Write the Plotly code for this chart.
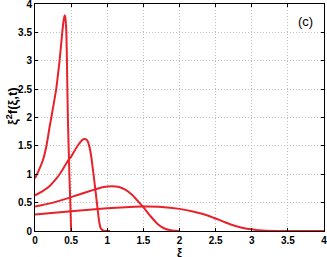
import plotly.graph_objects as go

# Curve data
x1 = [0, 0.05, 0.11, 0.15, 0.18, 0.2, 0.226, 0.26, 0.295, 0.34, 0.378, 0.395, 0.41, 0.42, 0.428, 0.434, 0.442, 0.448, 0.455, 0.465, 0.478, 0.49, 0.5]
y1 = [0.93, 1.06, 1.25, 1.45, 1.66, 1.82, 2.0, 2.25, 2.51, 3.0, 3.51, 3.7, 3.8, 3.76, 3.65, 3.5, 3.0, 2.5, 2.0, 1.5, 0.9, 0.45, 0.0]

x2 = [0, 0.1, 0.2, 0.3, 0.34, 0.4, 0.457, 0.5, 0.55, 0.6, 0.66, 0.69, 0.72, 0.75, 0.78, 0.81, 0.84, 0.87, 0.89, 0.91, 0.94, 0.98, 1.04]
y2 = [0.63, 0.7, 0.79, 0.93, 1.0, 1.12, 1.24, 1.31, 1.42, 1.52, 1.61, 1.62, 1.6, 1.5, 1.3, 1.0, 0.68, 0.35, 0.15, 0.05, 0.01, 0.0, 0.0]

x3 = [0, 0.25, 0.46, 0.6, 0.75, 0.85, 0.95, 1.06, 1.15, 1.25, 1.35, 1.45, 1.5, 1.6, 1.7, 1.8, 1.9, 2.0]
y3 = [0.43, 0.5, 0.58, 0.64, 0.7, 0.74, 0.775, 0.79, 0.78, 0.73, 0.63, 0.49, 0.42, 0.26, 0.12, 0.04, 0.008, 0.0]

x4 = [0, 0.5, 1.0, 1.25, 1.5, 1.75, 2.0, 2.2, 2.4, 2.5, 2.6, 2.7, 2.8, 2.9, 3.0, 3.1, 3.2, 3.5, 4.0]
y4 = [0.29, 0.35, 0.4, 0.42, 0.43, 0.425, 0.39, 0.34, 0.27, 0.22, 0.17, 0.12, 0.08, 0.05, 0.03, 0.012, 0.004, 0.0, 0.0]

tick_vals = [0, 0.5, 1, 1.5, 2, 2.5, 3, 3.5, 4]
tick_text = ["0", "0.5", "1", "1.5", "2", "2.5", "3", "3.5", "4"]

red = "#e8212b"
fig = go.Figure()
for xs, ys in [(x1, y1), (x2, y2), (x3, y3), (x4, y4)]:
    fig.add_trace(go.Scatter(x=xs, y=ys, mode="lines",
                             line=dict(color=red, width=2, shape="spline", smoothing=0.3),
                             showlegend=False, hoverinfo="skip"))

fam = "Liberation Sans, Arial, sans-serif"
axis_common = dict(
    tickmode="array", tickvals=tick_vals, ticktext=tick_text,
    range=[0, 4], showgrid=True, gridcolor="#bdbdbd", griddash="1px,2px", gridwidth=1,
    showline=True, linecolor="black", linewidth=1, mirror="ticks",
    ticks="inside", ticklen=3, tickcolor="black", zeroline=False,
    automargin=False, ticklabeloverflow="allow",
    tickfont=dict(family=fam, size=10, color="black", weight="bold"),
)
L, R, T, B = 35, 3, 4, 26
H = 257
plot_h = H - T - B
fig.update_layout(
    width=327, height=257,
    margin=dict(l=L, r=R, t=T, b=B),
    paper_bgcolor="white", plot_bgcolor="white",
    font=dict(family=fam, size=9, color="black"),
    xaxis=dict(**axis_common),
    yaxis=dict(**axis_common),
    annotations=[
        dict(text="(c)", x=3.74, y=3.70, xref="x", yref="y", showarrow=False,
             font=dict(family=fam, size=13, color="black")),
        dict(text="<b>ξ</b>", x=0.5, xref="paper", yref="paper",
             y=(H - 244 - B) / plot_h, showarrow=False, yanchor="top",
             font=dict(family=fam, size=12, color="black")),
        dict(text="<b>ξ<sup>2</sup>f(ξ,t)</b>", textangle=-90, xref="paper", yref="paper",
             x=-(L - 12) / (327 - L - R), y=(H - 106 - B) / plot_h, showarrow=False,
             xanchor="center", yanchor="middle",
             font=dict(family=fam, size=13, color="black")),
    ],
)
fig.write_html("out.html", config={"displayModeBar": False},
               post_script="document.body.style.margin='0px';")
